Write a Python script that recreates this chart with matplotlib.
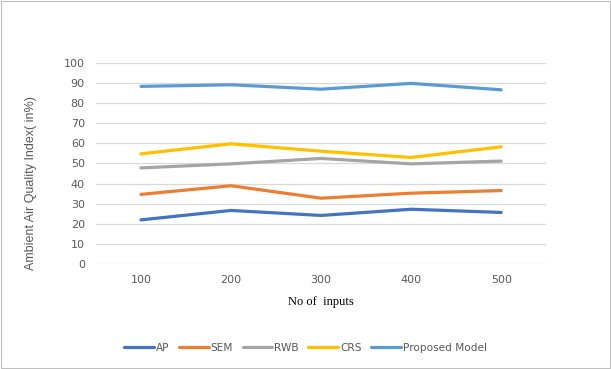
import matplotlib.pyplot as plt
from matplotlib.patches import Rectangle

# data
inputs = ['100', '200', '300', '400', '500']
ap = [21.9, 26.6, 24.1, 27.2, 25.6]
sem = [34.6, 38.9, 32.7, 35.2, 36.5]
rwb = [47.8, 49.8, 52.5, 49.8, 51.2]
crs = [54.8, 59.8, 56.1, 53.0, 58.3]
proposed = [88.4, 89.2, 87.0, 89.9, 86.7]

series = [('AP', ap, '#4472C4'),
          ('SEM', sem, '#ED7D31'),
          ('RWB', rwb, '#A5A5A5'),
          ('CRS', crs, '#FFC000'),
          ('Proposed Model', proposed, '#5B9BD5')]

fig = plt.figure(figsize=(6.11, 3.69), dpi=100)
ax = fig.add_axes([0.157, 0.285, 0.737, 0.544])

x = list(range(len(inputs)))
for name, vals, col in series:
    ax.plot(x, vals, color=col, linewidth=2.3, label=name, solid_capstyle='round')

ax.set_xlim(-0.5, len(inputs) - 0.5)
ax.set_ylim(0, 100)
ax.set_yticks(range(0, 101, 10))
ax.set_xticks(x)
ax.set_xticklabels(inputs)
ax.tick_params(axis='both', length=0, labelsize=8, labelcolor='#595959', pad=8)
ax.grid(axis='y', color='#D9D9D9', linewidth=0.9)
ax.set_axisbelow(True)
for s in ax.spines.values():
    s.set_visible(False)

ax.set_ylabel('Ambient Air Quality Index( in%)', fontsize=9, color='#595959',
              family='Liberation Sans')
ax.yaxis.set_label_coords(-0.13, 0.40)
ax.set_xlabel('No of  inputs', fontsize=9, color='black', family='Liberation Serif', labelpad=8)

fig.legend(loc='center', bbox_to_anchor=(0.5, 0.057), ncol=5, frameon=False,
           fontsize=7.6, labelcolor='#595959', handlelength=2.8, handletextpad=0.2,
           columnspacing=0.9)

fig.patches.append(Rectangle((0.002, 0.003), 0.996, 0.994, transform=fig.transFigure,
                             fill=False, edgecolor='#BFBFBF', linewidth=0.8))

fig.savefig('out.png', dpi=100)
